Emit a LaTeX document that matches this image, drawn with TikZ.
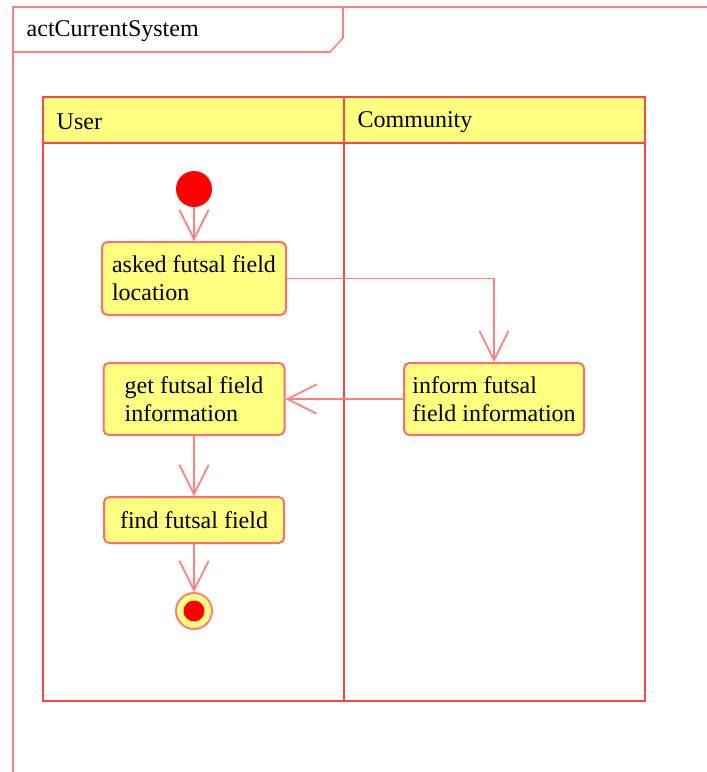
\documentclass[tikz,border=0pt]{standalone}
\usepackage{fontspec}
\setmainfont{Liberation Serif}
\usetikzlibrary{arrows.meta}
\definecolor{framered}{RGB}{255,128,128}
\definecolor{lanered}{RGB}{255,70,70}
\definecolor{boxred}{RGB}{255,110,110}
\definecolor{boxyellow}{RGB}{255,255,128}
\tikzset{
  actbox/.style={draw=boxred, line width=1.5pt, fill=boxyellow, rounded corners=4pt, align=left, font=\fontsize{18}{21}\selectfont},
  flow/.style={draw=framered, line width=1.3pt, -{Straight Barb[length=22pt,width=22pt]}},
  lanetext/.style={anchor=west, font=\fontsize{18}{21}\selectfont}
}

\begin{document}
\begin{tikzpicture}[x=0.75pt,y=-0.75pt]
    \useasboundingbox (0,0) rectangle (707,772);
    % Frame
    \draw[framered, line width=1.2pt] (13,772) -- (13,7) -- (707,7);
    \draw[framered, line width=1.2pt] (13,52) -- (330,52) -- (343,38) -- (343,7);
    \node[lanetext] (title) at (22,31) {actCurrentSystem};
    % Swimlanes
    \fill[boxyellow] (43,97) rectangle (645,143);
    \draw[lanered, line width=1.2pt] (43,97) rectangle (645,701);
    \draw[lanered, line width=1.2pt] (43,143) -- (645,143);
    \draw[lanered, line width=1.5pt] (344,97) -- (344,701);
    \node[lanetext] (user) at (52,122) {User};
    \node[lanetext] (community) at (353,122) {Community};
    % Start and end
    \node[circle, fill=red, minimum size=36*0.75pt, inner sep=0pt] (start) at (194,189) {};
    \node[circle, draw=framered, line width=1.5pt, fill=boxyellow, minimum size=36*0.75pt, inner sep=0pt] (end) at (194,611) {};
    \fill[red] (end.center) circle (10.5*0.75pt);
    % Actions
    \node[actbox, minimum width=138pt, minimum height=54.75pt] (asked) at (194,278.5) {asked futsal field\\location};
    \node[actbox, minimum width=135.75pt, minimum height=54pt] (get) at (194,399) {get futsal field\\information};
    \node[actbox, minimum width=135pt, minimum height=54pt] (inform) at (494,399) {inform futsal\\field information};
    \node[actbox, minimum width=135pt, minimum height=34.5pt] (find) at (194,520) {find futsal field};
    % Flows
    \draw[flow] (start) -- (asked);
    \draw[flow] (asked.east) -| (inform.north);
    \draw[flow] (inform) -- (get);
    \draw[flow] (get) -- (find);
    \draw[flow] (find) -- (end);
\end{tikzpicture}
\end{document}
